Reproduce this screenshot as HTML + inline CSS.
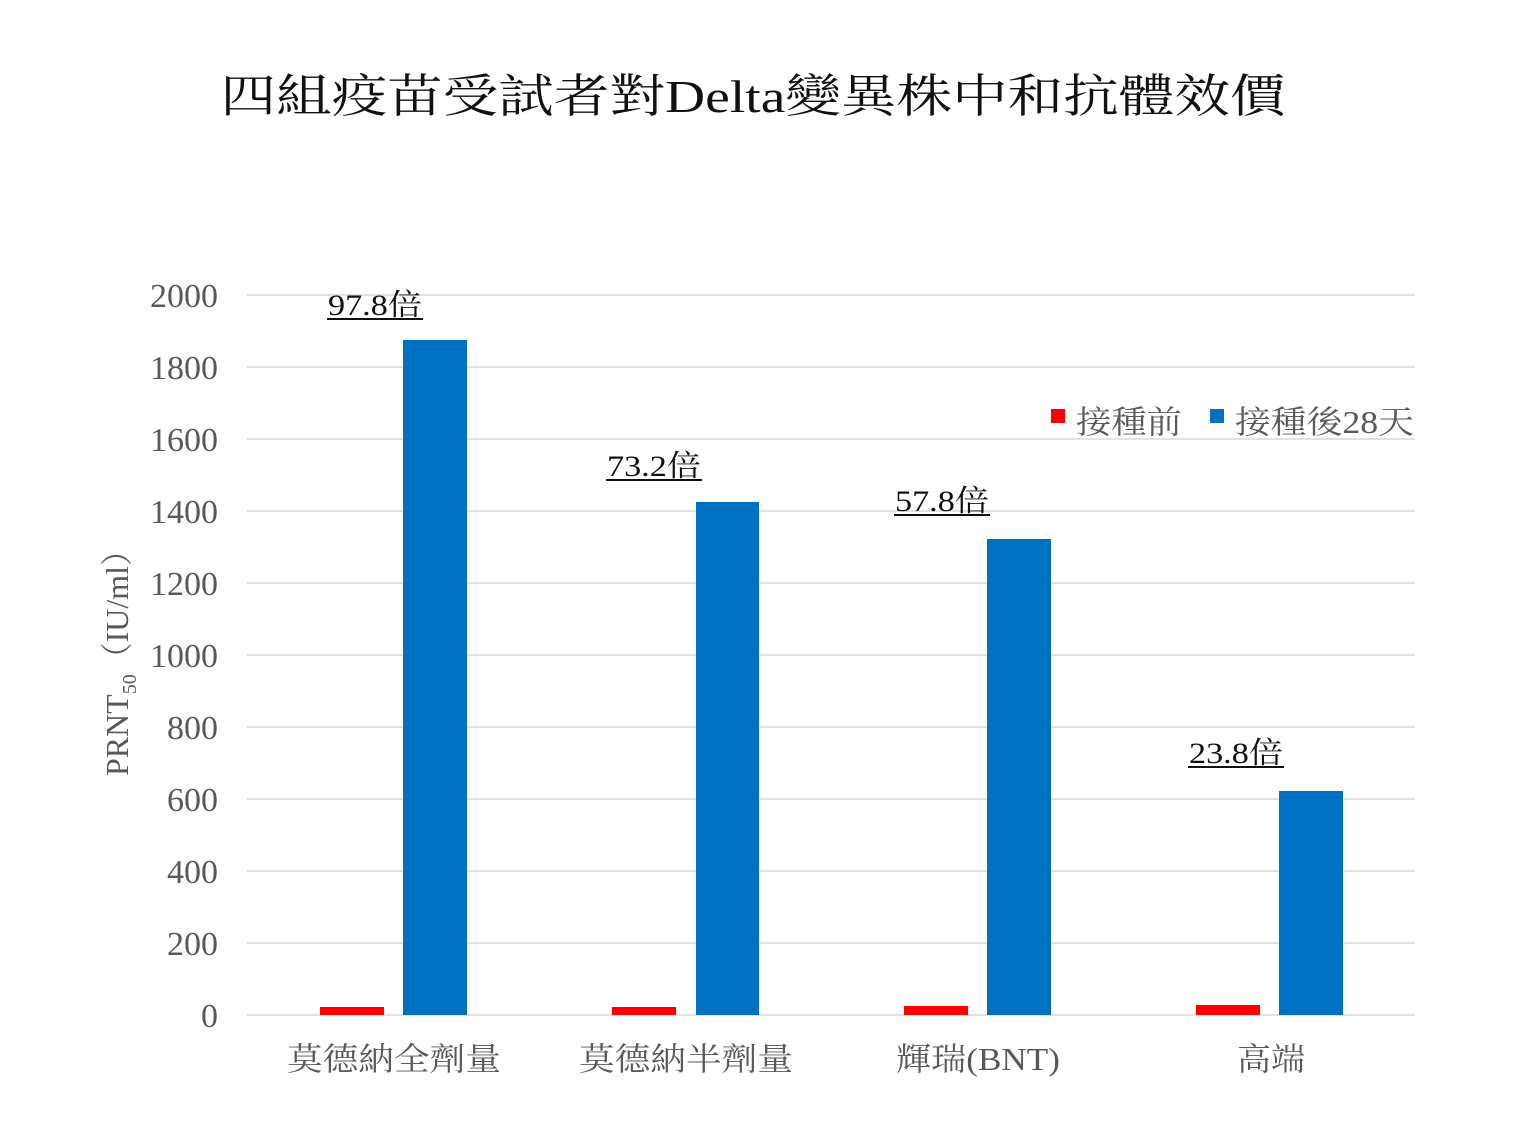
<!DOCTYPE html>
<html><head><meta charset="utf-8"><style>
html,body{margin:0;padding:0;background:#fff;}
svg{display:block;}
text{font-family:"Liberation Serif","Noto Serif CJK SC",serif;}
</style></head><body>
<svg width="1536" height="1147" xmlns="http://www.w3.org/2000/svg">
<rect width="1536" height="1147" fill="#fff"/>
<text x="753" y="112" font-size="46" text-anchor="middle" fill="#111" textLength="1065" lengthAdjust="spacingAndGlyphs">四組疫苗受試者對Delta變異株中和抗體效價</text>
<g stroke="#d9d9d9" stroke-width="1.5">
<line x1="247" x2="1415" y1="295" y2="295"/><line x1="247" x2="1415" y1="367" y2="367"/>
<line x1="247" x2="1415" y1="439" y2="439"/><line x1="247" x2="1415" y1="511" y2="511"/>
<line x1="247" x2="1415" y1="583" y2="583"/><line x1="247" x2="1415" y1="655" y2="655"/>
<line x1="247" x2="1415" y1="727" y2="727"/><line x1="247" x2="1415" y1="799" y2="799"/>
<line x1="247" x2="1415" y1="871" y2="871"/><line x1="247" x2="1415" y1="943" y2="943"/>
<line x1="247" x2="1415" y1="1015" y2="1015"/>
</g>
<g font-size="34" fill="#595959" text-anchor="end">
<text x="218" y="307">2000</text><text x="218" y="379">1800</text><text x="218" y="451">1600</text>
<text x="218" y="523">1400</text><text x="218" y="595">1200</text><text x="218" y="667">1000</text>
<text x="218" y="739">800</text><text x="218" y="811">600</text><text x="218" y="883">400</text>
<text x="218" y="955">200</text><text x="218" y="1027">0</text>
</g>
<text transform="translate(128,776) rotate(-90)" font-size="32" fill="#595959" textLength="242" lengthAdjust="spacingAndGlyphs">PRNT<tspan font-size="20" dy="8">50</tspan><tspan dy="-8">（IU/ml）</tspan></text>
<g fill="#ff0000">
<rect x="320" y="1007" width="64" height="8"/><rect x="612" y="1007" width="64" height="8"/>
<rect x="904" y="1006" width="64" height="9"/><rect x="1196" y="1005" width="64" height="10"/>
</g>
<g fill="#0070c0">
<rect x="403" y="340" width="64" height="675"/><rect x="696" y="502" width="63" height="513"/>
<rect x="987" y="539" width="64" height="476"/><rect x="1279" y="791" width="64" height="224"/>
</g>
<g font-size="30" fill="#111" lengthAdjust="spacingAndGlyphs">
<text x="328" y="315" textLength="94" lengthAdjust="spacingAndGlyphs">97.8倍</text>
<text x="607" y="476" textLength="94" lengthAdjust="spacingAndGlyphs">73.2倍</text>
<text x="895" y="511" textLength="94" lengthAdjust="spacingAndGlyphs">57.8倍</text>
<text x="1189" y="763" textLength="94" lengthAdjust="spacingAndGlyphs">23.8倍</text>
</g>
<g stroke="#111" stroke-width="2">
<line x1="327" x2="423" y1="319" y2="319"/><line x1="606" x2="702" y1="480" y2="480"/>
<line x1="894" x2="990" y1="515" y2="515"/><line x1="1188" x2="1284" y1="767" y2="767"/>
</g>
<rect x="1036" y="400" width="380" height="38" fill="#fff"/>
<rect x="1051" y="409" width="14" height="14" fill="#ff0000"/>
<text x="1076" y="433" font-size="32" fill="#595959" textLength="106" lengthAdjust="spacingAndGlyphs">接種前</text>
<rect x="1210" y="409" width="14" height="14" fill="#0070c0"/>
<text x="1235" y="433" font-size="32" fill="#595959" textLength="179" lengthAdjust="spacingAndGlyphs">接種後28天</text>
<g font-size="32" fill="#595959" lengthAdjust="spacingAndGlyphs">
<text x="287" y="1070" textLength="214" lengthAdjust="spacingAndGlyphs">莫德納全劑量</text>
<text x="579" y="1070" textLength="214" lengthAdjust="spacingAndGlyphs">莫德納半劑量</text>
<text x="896" y="1070" textLength="164" lengthAdjust="spacingAndGlyphs">輝瑞(BNT)</text>
<text x="1237" y="1070" textLength="68" lengthAdjust="spacingAndGlyphs">高端</text>
</g>
</svg>
</body></html>
